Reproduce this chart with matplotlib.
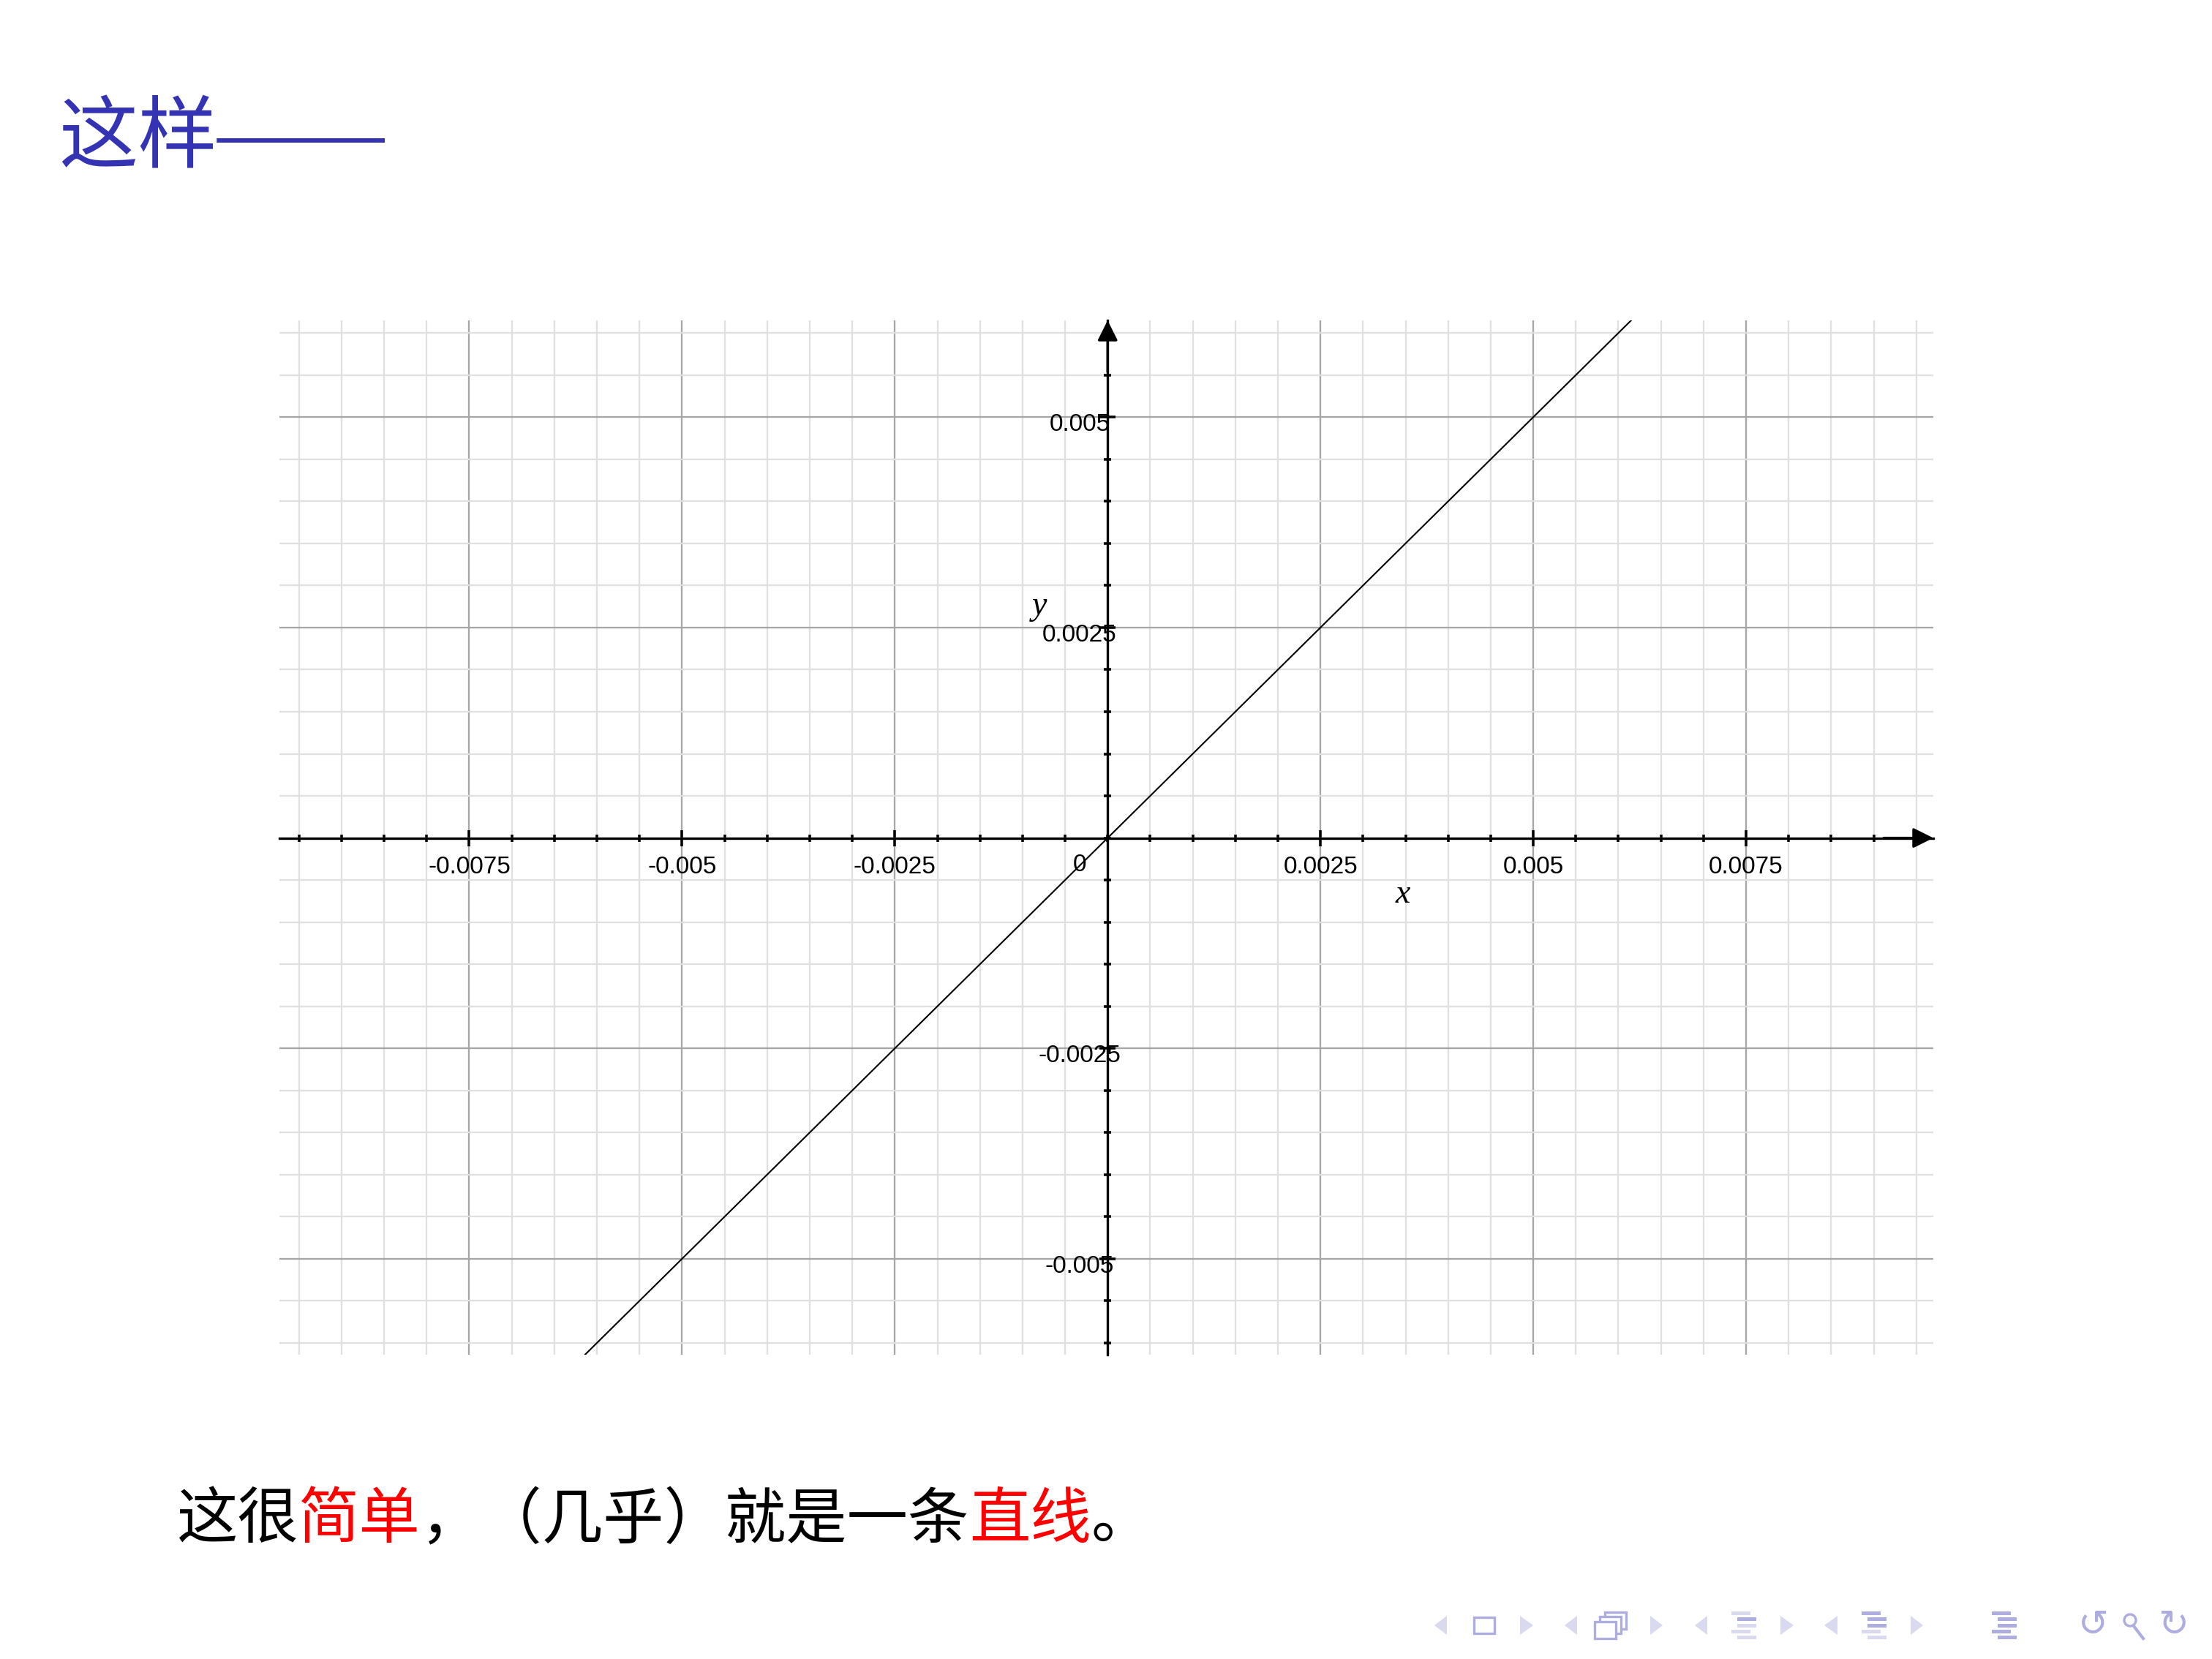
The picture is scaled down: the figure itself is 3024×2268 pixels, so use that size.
import matplotlib
matplotlib.use('Agg')
import matplotlib.pyplot as plt
from matplotlib.ticker import MultipleLocator
from matplotlib.transforms import ScaledTranslation
from matplotlib.patches import Polygon, Rectangle, Circle

# curve (almost a straight line through the origin)
line_x = [-0.0062, -0.005, -0.0025, 0.0, 0.0025, 0.005, 0.0062]
line_y = [-0.0062, -0.005, -0.0025, 0.0, 0.0025, 0.005, 0.0062]

x_major = [-0.0075, -0.005, -0.0025, 0.0025, 0.005, 0.0075]
x_labels = ['-0.0075', '-0.005', '-0.0025', '0.0025', '0.005', '0.0075']
y_major = [-0.005, -0.0025, 0.0025, 0.005]
y_labels = ['-0.005', '-0.0025', '0.0025', '0.005']
minor_step = 0.0005
xlim = (-0.00973, 0.0097)
ylim = (-0.00614, 0.00615)

title = '这样'
title_dash = '——'
sentence = [('这很', 'black'), ('简单', '#FF0000'), ('，（几乎）就是一条', 'black'),
            ('直线', '#FF0000'), ('。', 'black')]

W, H = 3024, 2268
DPI = 300
cjk = ['Noto Sans CJK SC', 'DejaVu Sans']
blue = '#3333B3'
light = '#D9D9F0'
mid = '#ADADE0'

fig = plt.figure(figsize=(W / DPI, H / DPI), dpi=DPI)

# ---- the graph ----
ax = fig.add_axes([382 / W, 1 - 1852 / H, (2643 - 382) / W, (1852 - 438) / H])
ax.set_xlim(xlim)
ax.set_ylim(ylim)
ax.xaxis.set_minor_locator(MultipleLocator(minor_step))
ax.yaxis.set_minor_locator(MultipleLocator(minor_step))

for s in ['top', 'right']:
    ax.spines[s].set_visible(False)
for s in ['left', 'bottom']:
    ax.spines[s].set_position(('data', 0))
    ax.spines[s].set_linewidth(0.8)

ax.tick_params(which='major', direction='inout', length=5.3, width=0.85,
               labelsize=8, pad=3.2)
ax.tick_params(which='minor', direction='inout', length=2.4, width=0.85)
ax.tick_params(axis='y', which='major', pad=6.5)

ax.set_xticks(x_major, x_labels, fontfamily='Liberation Sans')
ax.set_yticks(y_major, y_labels, fontfamily='Liberation Sans')
shift = ScaledTranslation(0, -7 / DPI, fig.dpi_scale_trans)
for lab in ax.get_yticklabels():
    lab.set_horizontalalignment('center')
    lab.set_transform(lab.get_transform() + shift)

ax.grid(which='minor', color='#E0E0E0', lw=0.55)
ax.grid(which='major', color='#A6A6A6', lw=0.55)

ax.annotate('0', xy=(0, 0), xytext=(-9.1, -8.9), textcoords='offset points',
            ha='center', va='center', fontsize=8, fontfamily='Liberation Sans')

# arrow heads on the axes
arr = dict(arrowstyle='-|>', color='black', lw=0.8, mutation_scale=14,
           shrinkA=0, shrinkB=0)
ax.annotate('', xy=(1, 0), xycoords=('axes fraction', 'data'),
            xytext=(0.97, 0), textcoords=('axes fraction', 'data'),
            arrowprops=arr, annotation_clip=False)
ax.annotate('', xy=(0, 1), xycoords=('data', 'axes fraction'),
            xytext=(0, 0.95), textcoords=('data', 'axes fraction'),
            arrowprops=arr, annotation_clip=False)

ax.plot(line_x, line_y, color='black', lw=0.5)

fig.text(1918 / W, 1 - 1223 / H, 'x', fontsize=11, style='italic',
         family='Liberation Serif', ha='center', va='center')
fig.text(1421 / W, 1 - 829 / H, 'y', fontsize=11, style='italic',
         family='Liberation Serif', ha='center', va='center')

# ---- slide layer, in pixel coordinates ----
bg = fig.add_axes([0, 0, 1, 1])
bg.set_xlim(0, W)
bg.set_ylim(H, 0)
bg.axis('off')

t = bg.text(80, 191, title, fontsize=26, color=blue, family=cjk, va='center')
bg.annotate(title_dash, xy=(1, 0.5), xycoords=t, va='center', fontsize=27.5,
            color=blue, family='Liberation Serif')

t = bg.text(241, 2078, sentence[0][0], fontsize=20, color=sentence[0][1],
            family=cjk, va='center')
for txt, col in sentence[1:]:
    t = bg.annotate(txt, xy=(1, 0), xycoords=t, va='bottom', fontsize=20,
                    color=col, family=cjk)

# beamer navigation symbols
cy = 2222
for x0, x1 in [(1961, 1978), (2139, 2156), (2317, 2334), (2494, 2512)]:
    bg.add_patch(Polygon([(x1, cy - 13), (x1, cy + 13), (x0, cy)], color=light, lw=0))
for x0, x1 in [(2078, 2096), (2256, 2273), (2434, 2452), (2612, 2629)]:
    bg.add_patch(Polygon([(x0, cy - 13), (x0, cy + 13), (x1, cy)], color=light, lw=0))

bg.add_patch(Rectangle((2015, 2211), 28, 22, fill=False, ec=mid, lw=0.8))
for x, y in [(2194, 2204), (2187, 2210), (2180, 2217)]:
    bg.add_patch(Rectangle((x, y), 29, 23, fc='white', ec=mid, lw=0.8))

rows = [2205, 2213, 2222, 2230, 2238]
indent = [0, 8, 8, 0, 8]
bar_cols = {
    2367: [light, mid, light, light, light],
    2545: [mid, mid, mid, light, light],
    2723: [mid, mid, mid, mid, mid],
}
for x0, cols in bar_cols.items():
    for ry, dx, c in zip(rows, indent, cols):
        bg.add_patch(Rectangle((x0 + dx, ry - 2.5), 26, 5, color=c, lw=0))

bg.text(2862, cy, '↺', fontsize=12, color=mid, ha='center', va='center',
        family='DejaVu Sans')
bg.text(2971, cy, '↻', fontsize=12, color=mid, ha='center', va='center',
        family='DejaVu Sans')
bg.add_patch(Circle((2912, 2215), 8, fill=False, ec=mid, lw=0.8))
bg.plot([2917, 2930], [2223, 2240], color=mid, lw=1.0)

fig.savefig('out.png', dpi=DPI)
